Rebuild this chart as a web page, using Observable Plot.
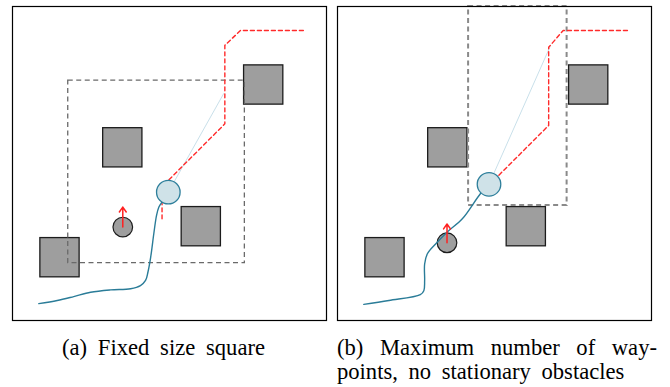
<!DOCTYPE html>
<html><head><meta charset="utf-8">
<script src="https://cdn.jsdelivr.net/npm/d3@7"></script>
<script src="https://cdn.jsdelivr.net/npm/@observablehq/plot@0.6"></script>
<style>
html,body{margin:0;padding:0;background:#fff}
body{width:670px;height:387px;position:relative;overflow:hidden}
.panel{position:absolute;top:5px}
.cap{position:absolute;font-family:"Liberation Serif","Times New Roman",serif;font-size:22.6px;color:#000;white-space:nowrap;line-height:24px;word-spacing:5px}
.just{display:flex;justify-content:space-between;word-spacing:0}
</style></head><body>
<div id="pa" class="panel" style="left:11px"></div>
<div id="pb" class="panel" style="left:336px"></div>
<div id="capA" class="cap just" style="left:62px;top:336px;width:203px"></div>
<div id="capB1" class="cap just" style="left:337px;top:336px;width:320px"></div>
<div id="capB2" class="cap" style="left:337px;top:360px"></div>
<script>
// ---- data (world units, workspace 8 x 8) ----
const workspace = [0, 8];
const obstacleCx = [6.40, 2.81, 4.81, 1.21];
const obstacleCy = [6.00, 4.40, 2.39, 1.60];
const obstacleSide = 1.0;

// panel (a): fixed size square
const aRegionX = [1.42, 5.92];
const aRegionY = [1.46, 6.11];
const aRobot = [3.97, 3.27];
const aRobotRadius = 0.30;
const aMover = [2.81, 2.38];
const aMoverVel = [0, 0.51];
const aMoverRadius = 0.25;
const aPlanX = [3.81, 3.81, 5.41, 5.41, 5.81, 7.41];
const aPlanY = [2.59, 3.41, 5.01, 7.01, 7.39, 7.39];
const aSightX = [3.97, 5.38];
const aSightY = [3.27, 5.78];
const aTrajX = [0.67, 1.14, 1.56, 1.99, 2.50, 3.01, 3.26, 3.39, 3.45, 3.52, 3.60, 3.67, 3.73, 3.79, 3.88];
const aTrajY = [0.43, 0.51, 0.61, 0.72, 0.78, 0.81, 0.89, 1.02, 1.23, 1.61, 2.21, 2.68, 2.89, 2.99, 3.10];

// panel (b): maximum number of waypoints
const bRegionX = [3.34, 5.85];
const bRegionY = [2.93, 8.00];
const bRobot = [3.86, 3.47];
const bRobotRadius = 0.30;
const bMover = [2.79, 1.98];
const bMoverVel = [0, 0.48];
const bMoverRadius = 0.25;
const bPlanX = [3.86, 5.38, 5.38, 5.75, 7.40];
const bPlanY = [3.45, 4.97, 6.96, 7.39, 7.39];
const bSightX = [3.86, 5.43];
const bSightY = [3.47, 7.01];
const bTrajX = [0.67, 1.31, 2.11, 2.20, 2.22, 2.22, 2.29, 2.50, 2.79, 3.18, 3.64, 3.86];
const bTrajY = [0.41, 0.51, 0.66, 0.76, 1.02, 1.44, 1.70, 1.95, 2.25, 2.59, 3.23, 3.47];

const captionA = "(a) Fixed size square";
const captionB1 = "(b) Maximum number of way-";
const captionB2 = "points, no stationary obstacles";

// ---- drawing ----
const SIZE = 316, M = 1;
const pxPerUnit = (SIZE - 2 * M) / (workspace[1] - workspace[0]);
const zip = (xs, ys) => xs.map((x, i) => ({x, y: ys[i]}));
const obstacles = obstacleCx.map((cx, i) => ({
  x1: cx - obstacleSide / 2, x2: cx + obstacleSide / 2,
  y1: obstacleCy[i] - obstacleSide / 2, y2: obstacleCy[i] + obstacleSide / 2
}));

function panel(p, regionStyle) {
  return Plot.plot({
    width: SIZE, height: SIZE, margin: M,
    x: {domain: workspace, axis: null},
    y: {domain: workspace, axis: null},
    style: {background: "white", overflow: "visible"},
    marks: [
      Plot.rect(obstacles, {x1: "x1", x2: "x2", y1: "y1", y2: "y2",
        fill: "#9e9e9e", stroke: "#1c1c1c", strokeWidth: 1.3}),
      Plot.rect([{x1: p.regionX[0], x2: p.regionX[1], y1: p.regionY[0], y2: p.regionY[1]}],
        {x1: "x1", x2: "x2", y1: "y1", y2: "y2", fill: "none", ...regionStyle}),
      Plot.line(zip(p.sightX, p.sightY), {x: "x", y: "y", stroke: "#c9e0ea", strokeWidth: 1}),
      Plot.line(zip(p.planX, p.planY), {x: "x", y: "y", stroke: "#ff2b2b",
        strokeWidth: 1.4, strokeDasharray: "4,3"}),
      Plot.dot([{x: p.mover[0], y: p.mover[1]}], {x: "x", y: "y",
        r: p.moverRadius * pxPerUnit, fill: "#9e9e9e", stroke: "#1c1c1c", strokeWidth: 1.2}),
      Plot.line(zip(p.trajX, p.trajY), {x: "x", y: "y", curve: "catmull-rom",
        stroke: "#2a7c98", strokeWidth: 1.4}),
      Plot.arrow([{x1: p.mover[0], y1: p.mover[1], x2: p.mover[0] + p.moverVel[0], y2: p.mover[1] + p.moverVel[1]}],
        {x1: "x1", y1: "y1", x2: "x2", y2: "y2", stroke: "#ff2020", strokeWidth: 1.5,
         headLength: 6, headAngle: 70}),
      Plot.dot([{x: p.robot[0], y: p.robot[1]}], {x: "x", y: "y",
        r: p.robotRadius * pxPerUnit, fill: "#cfe2e8", stroke: "#2e7f9b", strokeWidth: 1.3}),
      Plot.frame({stroke: "#000", strokeWidth: 1.2})
    ]
  });
}

document.getElementById("pa").append(panel({
  regionX: aRegionX, regionY: aRegionY, robot: aRobot, robotRadius: aRobotRadius,
  mover: aMover, moverVel: aMoverVel, moverRadius: aMoverRadius,
  planX: aPlanX, planY: aPlanY, sightX: aSightX, sightY: aSightY, trajX: aTrajX, trajY: aTrajY
}, {stroke: "#6a6a6a", strokeWidth: 1.3, strokeDasharray: "5,3.5"}));

document.getElementById("pb").append(panel({
  regionX: bRegionX, regionY: bRegionY, robot: bRobot, robotRadius: bRobotRadius,
  mover: bMover, moverVel: bMoverVel, moverRadius: bMoverRadius,
  planX: bPlanX, planY: bPlanY, sightX: bSightX, sightY: bSightY, trajX: bTrajX, trajY: bTrajY
}, {stroke: "#8a8a8a", strokeWidth: 2, strokeDasharray: "5,3.5"}));

function justify(id, text) {
  const el = document.getElementById(id);
  text.split(" ").forEach(w => { const s = document.createElement("span"); s.textContent = w; el.append(s); });
}
justify("capA", captionA);
justify("capB1", captionB1);
document.getElementById("capB2").textContent = captionB2;
</script>
</body></html>
